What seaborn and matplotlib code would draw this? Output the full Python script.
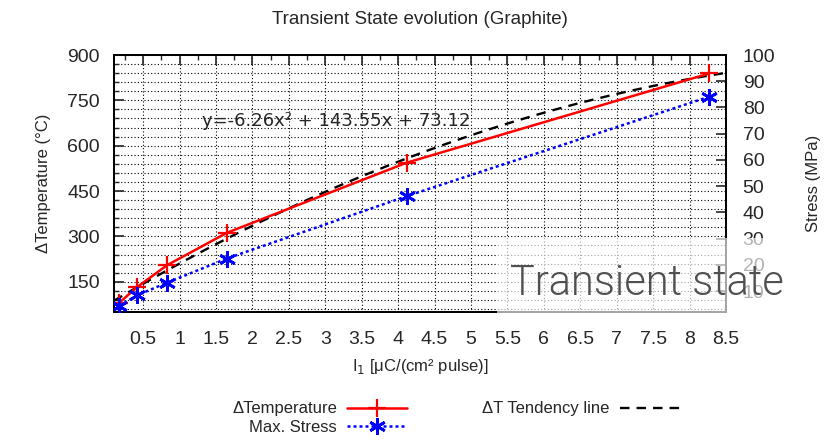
import numpy as np
import pandas as pd
import matplotlib
matplotlib.use("Agg")
import matplotlib.pyplot as plt
import seaborn as sns
from matplotlib.ticker import MultipleLocator
from matplotlib.patches import Rectangle

# ---- data ----
current = [0.17, 0.42, 0.83, 1.65, 4.12, 8.27]          # I1 [uC/(cm2 pulse)]
delta_temp = [80, 133, 205, 312, 544, 839]               # Delta T (C)
max_stress = [4.3, 8.4, 13.2, 22.4, 46.2, 84.1]          # MPa
trend_coef = [-6.26, 143.55, 73.12]                      # quadratic fit shown on chart
x_ticks = [0.5, 1, 1.5, 2, 2.5, 3, 3.5, 4, 4.5, 5, 5.5, 6, 6.5, 7, 7.5, 8, 8.5]
x_tick_labels = ["0.5", "1", "1.5", "2", "2.5", "3", "3.5", "4", "4.5", "5",
                 "5.5", "6", "6.5", "7", "7.5", "8", "8.5"]
temp_ticks = [150, 300, 450, 600, 750, 900]
stress_ticks = [10, 20, 30, 40, 50, 60, 70, 80, 90, 100]

sns.set_style("white")
plt.rcParams['font.family'] = ['Liberation Sans', 'DejaVu Sans']

df = pd.DataFrame({"I": current, "T": delta_temp, "S": max_stress})
xs = np.linspace(0.1, 8.5, 200)
trend = np.polyval(trend_coef, xs)
df_trend = pd.DataFrame({"I": xs, "T": trend})

fig = plt.figure(figsize=(8.35, 4.41), dpi=100)
ax = fig.add_axes([114/835, 1-312/441, (726-114)/835, (312-55)/441])
ax2 = ax.twinx()

sns.lineplot(data=df, x="I", y="T", ax=ax, color="red", lw=1.8,
             marker="+", markersize=13, markeredgewidth=1.6,
             markeredgecolor="red", label="ΔTemperature", legend=False, zorder=4)
sns.lineplot(data=df_trend, x="I", y="T", ax=ax, color="black", lw=1.7,
             linestyle=(0, (4, 3)), label="ΔT Tendency line", legend=False, zorder=3)
sns.lineplot(data=df, x="I", y="S", ax=ax2, color="blue", lw=1.8,
             linestyle=(0, (1.2, 1.2)), marker=(6, 2, 0), markersize=12,
             markeredgewidth=2, markeredgecolor="blue",
             label="Max. Stress", legend=False, zorder=4)

ax.set_xlim(0.1, 8.5)
ax.set_ylim(50, 900)
ax2.set_ylim(2, 100)

ax.set_xticks(x_ticks)
ax.set_xticklabels(x_tick_labels)
ax.xaxis.set_minor_locator(MultipleLocator(0.25))
ax.set_yticks(temp_ticks)
ax.yaxis.set_minor_locator(MultipleLocator(30))
ax2.set_yticks(stress_ticks)

ax.tick_params(axis="both", which="major", direction="in", length=7, width=1.2,
               labelsize=14, top=True, right=False)
ax.tick_params(axis="x", which="major", pad=14)
ax.tick_params(axis="y", which="major", pad=10)
ax.tick_params(axis="both", which="minor", direction="in", length=3.5, width=1.0,
               top=True, right=False)
ax2.tick_params(axis="y", which="major", direction="in", length=7, width=1.2,
                labelsize=14, pad=12)

ax.grid(True, which="major", axis="x", color="black", linestyle=(0, (1, 2)), lw=0.8)
ax.grid(True, which="minor", axis="y", color="black", linestyle=(0, (1, 2)), lw=0.8)
ax.grid(True, which="major", axis="y", color="black", linestyle=(0, (1, 2)), lw=0.8)
ax.set_axisbelow(True)

for a in (ax, ax2):
    for s in a.spines.values():
        s.set_color("black")
        s.set_linewidth(1.4)

ax.set_xlabel("I$_1$ [μC/(cm² pulse)]", fontsize=12, labelpad=6)
ax.set_ylabel("ΔTemperature (°C)", fontsize=12, labelpad=12)
ax2.set_ylabel("Stress (MPa)", fontsize=12, labelpad=22)

fig.text(202/835, 1-121/441, "y=-6.26x² + 143.55x + 73.12", fontsize=13,
         family="DejaVu Sans", va="center", ha="left", zorder=10)

fig.text(420/835, 1-19/441, "Transient State evolution (Graphite)", fontsize=13.5,
         ha="center", va="center")

# overlay box with "Transient state" label
box = Rectangle((497/835, 1-315/441), (790-497)/835, (315-238)/441,
                transform=fig.transFigure, facecolor="white", alpha=0.65,
                edgecolor="none", zorder=20)
fig.patches.append(box)
fig.text(510/835, 1-295/441, "Transient state", fontsize=30, color="#505050",
         family="Roboto", fontweight=300, ha="left", va="baseline", zorder=21)

# legend
h1, l1 = ax.get_legend_handles_labels()
h2, l2 = ax2.get_legend_handles_labels()
handles = [h1[0], h2[0], h1[1]]
labels = [l1[0], l2[0], l1[1]]
fig.legend(handles, labels, ncol=2, loc="center", bbox_to_anchor=(456/835, 1-418/441),
           frameon=False, markerfirst=False, fontsize=12, handlelength=3.6,
           columnspacing=4.5, labelspacing=0.2, handletextpad=0.6)

fig.savefig("out.png", dpi=100)
